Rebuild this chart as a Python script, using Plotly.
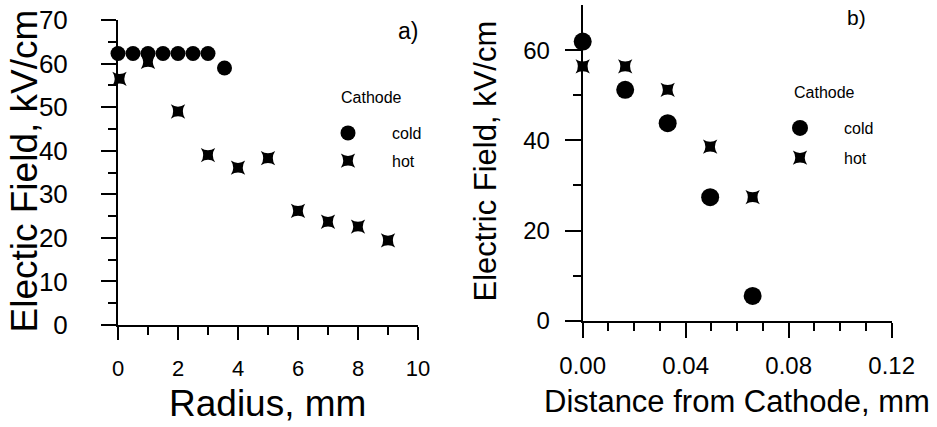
import plotly.graph_objects as go

W, H = 937, 427
FONT = "Liberation Sans, Arial, Helvetica, sans-serif"

# ---- data: panel a) (Radius) ----
radius_cold = [0, 0.5, 1, 1.5, 2, 2.5, 3, 3.55]
field_cold_a = [62.3, 62.3, 62.3, 62.3, 62.3, 62.3, 62.3, 59.0]
radius_hot = [0.05, 1, 2, 3, 4, 5, 6, 7, 8, 9]
field_hot_a = [56.5, 60.4, 49.0, 39.0, 36.1, 38.3, 26.2, 23.7, 22.6, 19.4]

# ---- data: panel b) (Distance from cathode) ----
dist_cold = [0.0, 0.0165, 0.033, 0.0495, 0.066]
field_cold_b = [61.9, 51.2, 43.8, 27.4, 5.5]
dist_hot = [0.0, 0.0165, 0.033, 0.0495, 0.066]
field_hot_b = [56.4, 56.4, 51.2, 38.6, 27.4]

series_names = ["cold", "hot"]
legend_title = "Cathode"


def px(x):
    return x / W


def py(y):
    return 1 - y / H


fig = go.Figure()

# panel a
fig.add_trace(go.Scatter(x=radius_cold, y=field_cold_a, mode="markers", name=series_names[0],
                         marker=dict(symbol="circle", size=15, color="black"),
                         cliponaxis=False, xaxis="x", yaxis="y", legend="legend", legendgroup="a1"))
fig.add_trace(go.Scatter(x=radius_hot, y=field_hot_a, mode="markers", name=series_names[1],
                         marker=dict(symbol="star-square", size=13, color="black"),
                         cliponaxis=False, xaxis="x", yaxis="y", legend="legend", legendgroup="a2"))
# panel b
fig.add_trace(go.Scatter(x=dist_cold, y=field_cold_b, mode="markers", name=series_names[0],
                         marker=dict(symbol="circle", size=18, color="black"),
                         cliponaxis=False, xaxis="x2", yaxis="y2", legend="legend2", legendgroup="b1"))
fig.add_trace(go.Scatter(x=dist_hot, y=field_hot_b, mode="markers", name=series_names[1],
                         marker=dict(symbol="star-square", size=13, color="black"),
                         cliponaxis=False, xaxis="x2", yaxis="y2", legend="legend2", legendgroup="b2"))

common = dict(showline=True, linecolor="black", linewidth=2, ticks="outside", tickwidth=2,
              tickcolor="black", showgrid=False, zeroline=False, automargin=False)


def tf(size):
    return dict(family=FONT, size=size, color="black")


fig.update_layout(
    template="none",
    width=W, height=H,
    margin=dict(l=0, r=0, t=0, b=0, autoexpand=False),
    paper_bgcolor="white", plot_bgcolor="white",
    font=dict(family=FONT, color="black"),
    xaxis=dict(domain=[px(118), px(418)], range=[0, 10], anchor="y", dtick=2, tick0=0, ticklen=13,
               ticklabelstandoff=10, tickfont=tf(22),
               minor=dict(ticks="outside", dtick=1, ticklen=8, tickwidth=2, tickcolor="black"), **common),
    yaxis=dict(domain=[py(325), py(20)], range=[0, 70], anchor="x", dtick=10, tick0=0, ticklen=15,
               ticklabelstandoff=28, tickfont=tf(26),
               minor=dict(ticks="outside", dtick=5, ticklen=8, tickwidth=2, tickcolor="black"), **common),
    xaxis2=dict(domain=[px(582.7), px(891.7)], range=[0, 0.12], anchor="y2", dtick=0.04, tick0=0,
                ticklen=15, tickformat=".2f", ticklabelstandoff=7, tickfont=tf(24),
                minor=dict(ticks="outside", dtick=0.01, ticklen=8, tickwidth=2, tickcolor="black"), **common),
    yaxis2=dict(domain=[py(320.7), py(5)], range=[0, 70], anchor="x2", dtick=20, tick0=0, ticklen=16,
                ticklabelstandoff=10, tickfont=tf(24),
                minor=dict(ticks="outside", tickvals=[10, 30, 50], ticklen=8, tickwidth=2, tickcolor="black"), **common),
    showlegend=True,
    legend=dict(x=px(304), y=py(116), xanchor="left", yanchor="top", bgcolor="rgba(0,0,0,0)",
                itemwidth=78, tracegroupgap=4, traceorder="grouped",
                font=dict(family=FONT, size=16, color="black")),
    legend2=dict(x=px(756), y=py(111), xanchor="left", yanchor="top", bgcolor="rgba(0,0,0,0)",
                 itemwidth=78, tracegroupgap=6, traceorder="grouped",
                 font=dict(family=FONT, size=16, color="black")),
)

annotations = [
    dict(text="Electic Field, kV/cm", x=px(24), y=py(171.5), textangle=-90, font=dict(size=37)),
    dict(text="Radius, mm", x=px(267.5), y=py(403), font=dict(size=37)),
    dict(text="a)", x=px(407.5), y=py(31), font=dict(size=23)),
    dict(text=legend_title, x=px(371), y=py(97), font=dict(size=16)),
    dict(text="Electric Field, kV/cm", x=px(485), y=py(161.5), textangle=-90, font=dict(size=31)),
    dict(text="Distance from Cathode, mm", x=px(737), y=py(401), font=dict(size=31)),
    dict(text="b)", x=px(856), y=py(17), font=dict(size=21)),
    dict(text=legend_title, x=px(824), y=py(92), font=dict(size=16)),
]
for a in annotations:
    a.update(xref="paper", yref="paper", showarrow=False, xanchor="center", yanchor="middle")
    a["font"] = dict(family=FONT, color="black", **a["font"])
fig.update_layout(annotations=annotations)

fig.write_html("out.html", config={"displayModeBar": False},
               post_script="document.body.style.margin='0px';document.body.style.overflow='hidden';")
